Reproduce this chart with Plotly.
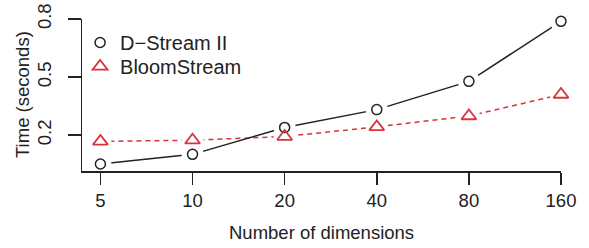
import plotly.graph_objects as go

dimensions = ["5", "10", "20", "40", "80", "160"]
positions = [1, 2, 3, 4, 5, 6]
dstream_ii = [0.051, 0.101, 0.240, 0.332, 0.478, 0.788]
bloomstream = [0.168, 0.174, 0.193, 0.243, 0.299, 0.410]
y_ticks = [0.2, 0.5, 0.8]

RED = "#d8343c"
BLACK = "#222222"
FONT = "Liberation Sans, Arial, Helvetica, sans-serif"

fig = go.Figure()

# BloomStream line + gap halo
fig.add_trace(go.Scatter(x=positions, y=bloomstream, mode="lines",
                         line=dict(color=RED, width=1.5, dash="5px,4px"),
                         showlegend=False, hoverinfo="skip", cliponaxis=False))
fig.add_trace(go.Scatter(x=positions, y=bloomstream, mode="markers",
                         marker=dict(symbol="circle", size=22, color="white", line=dict(width=0)),
                         showlegend=False, hoverinfo="skip", cliponaxis=False))
# D-Stream II line + gap halo
fig.add_trace(go.Scatter(x=positions, y=dstream_ii, mode="lines",
                         line=dict(color=BLACK, width=1.5),
                         showlegend=False, hoverinfo="skip", cliponaxis=False))
fig.add_trace(go.Scatter(x=positions, y=dstream_ii, mode="markers",
                         marker=dict(symbol="circle", size=22, color="white", line=dict(width=0)),
                         showlegend=False, hoverinfo="skip", cliponaxis=False))
# markers
fig.add_trace(go.Scatter(x=positions, y=dstream_ii, mode="markers", name="D\u2212Stream II",
                         marker=dict(symbol="circle-open", size=10, color=BLACK, line=dict(width=1.5)),
                         cliponaxis=False, legend="legend"))
fig.add_trace(go.Scatter(x=positions, y=bloomstream, mode="markers", name="BloomStream",
                         marker=dict(symbol="triangle-up-open", size=13, color=RED, line=dict(width=1.8)),
                         cliponaxis=False, legend="legend2"))

legend_style = dict(xanchor="left", yanchor="top", bgcolor="rgba(0,0,0,0)",
                    font=dict(family=FONT, size=20, color=BLACK))

fig.update_layout(
    width=589, height=248,
    margin=dict(l=82, r=28, t=19, b=77),
    paper_bgcolor="white", plot_bgcolor="white",
    font=dict(family=FONT, size=18.5, color=BLACK),
    legend=dict(x=-0.004, y=0.974, **legend_style),
    legend2=dict(x=-0.004, y=0.816, **legend_style),
    xaxis=dict(range=[0.8, 6.0], tickvals=positions, ticktext=dimensions, automargin=False,
               showgrid=False, zeroline=False, showline=True, linecolor=BLACK, linewidth=1.5,
               ticks="outside", ticklen=12, tickwidth=1.5, tickcolor=BLACK,
               tickfont=dict(family=FONT, size=18.5, color=BLACK), ticklabelstandoff=0),
    yaxis=dict(range=[0.015, 0.8], tickvals=y_ticks, ticktext=["0.2", "0.5", "0.8"], automargin=False,
               showgrid=False, zeroline=False, showline=True, linecolor=BLACK, linewidth=1.5,
               ticks="outside", ticklen=13, tickwidth=1.5, tickcolor=BLACK,
               tickangle=-90, tickfont=dict(family=FONT, size=18.5, color=BLACK), ticklabelstandoff=9),
    annotations=[
        dict(text="Number of dimensions", xref="paper", yref="paper", x=0.5, y=0,
             xanchor="center", yanchor="middle", yshift=-61.5, showarrow=False,
             font=dict(family=FONT, size=18.5, color=BLACK)),
        dict(text="Time (seconds)", xref="paper", yref="paper", x=0, y=0.5,
             xanchor="center", yanchor="middle", xshift=-60, textangle=-90, showarrow=False,
             font=dict(family=FONT, size=18.5, color=BLACK)),
    ],
)

fig.write_html("out.html", config={"displayModeBar": False, "staticPlot": True},
               post_script="document.body.style.margin='0';document.body.style.overflow='hidden';")
